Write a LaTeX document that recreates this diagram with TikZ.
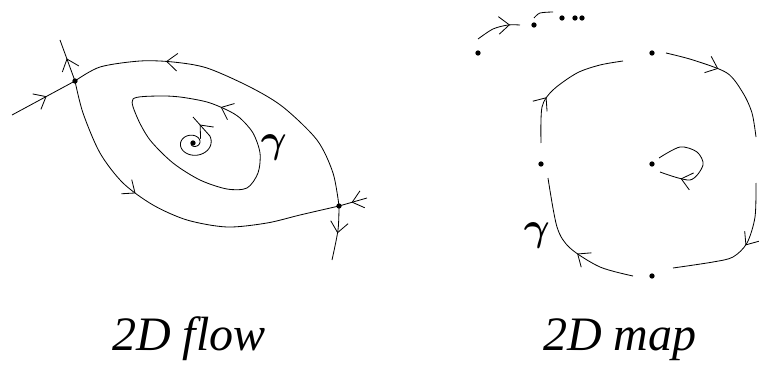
\documentclass[tikz,border=0pt]{standalone}
\usepackage{fontspec}
\setmainfont{Liberation Serif}
\usepackage{graphicx}
\usepackage{tikz}
\usetikzlibrary{shapes,arrows.meta,positioning,calc,decorations.markings}

\newcommand{\orbitname}{\scalebox{3.4}{\boldmath$\gamma$}}

\tikzset{
  fixpt/.style={circle, fill=black, inner sep=0pt, minimum size=4.5pt},
  orbit/.style={line width=0.7pt},
  flowarrow/.style={postaction={decorate}, decoration={markings,
      mark=at position #1 with {\arrow{Straight Barb[length=9pt,width=15pt,line width=0.7pt]}}}},
  biglabel/.style={font=\fontsize{41}{44}\selectfont\itshape}
}

\begin{document}
\begin{tikzpicture}[x=0.03cm, y=-0.03cm]
  \useasboundingbox (0,0) rectangle (759,370);

  % 2D flow
  \node[fixpt] (A) at (75,81) {};
  \node[fixpt] (B) at (339,206) {};
  \node[fixpt] (F) at (193,143) {};
  \coordinate (Aup) at (60,40);
  \coordinate (Ain) at (12,115);
  \coordinate (Bin) at (367,198);
  \coordinate (Bdown) at (332,260);
  \coordinate (Ftail) at (193,117);

  \draw[orbit, flowarrow=0.55] (A.center) -- (Aup);
  \draw[orbit, flowarrow=0.55] (Ain) -- (A.center);
  \draw[orbit, flowarrow=0.55] (Bin) -- (B.center);
  \draw[orbit, flowarrow=0.5] plot[smooth] coordinates {(B.center) (338,230) (Bdown)};
  \draw[orbit, flowarrow=0.72] plot[smooth] coordinates {(B.center) (333,173) (317,140) (283,107)
      (250,87) (207,68) (173,62) (140,61) (100,67) (A.center)};
  \draw[orbit, flowarrow=0.38] plot[smooth] coordinates {(A.center) (83,113) (100,153) (123,183)
      (153,205) (187,220) (227,227) (267,223) (300,215) (B.center)};
  \draw[orbit, flowarrow=0.12] plot[smooth cycle] coordinates {(260,153) (253,133) (240,118)
      (227,110) (207,102) (180,97) (157,96) (133,99) (137,117) (150,140) (173,163) (200,180)
      (227,189) (247,188) (258,173)};
  \draw[orbit] plot[smooth, domain=-512:28, samples=70, variable=\t]
      ({193+(2+17*(\t+512)/540)*cos(\t)}, {143-0.8*(2+17*(\t+512)/540)*sin(\t)}) coordinate (Fend);
  \draw[orbit, flowarrow=0.6] (Fend) -- (Ftail);
  \node (g1) at (274,148) {\orbitname};

  % 2D map
  \node[fixpt] (p0) at (478,53) {};
  \node[fixpt] (p1) at (534,25) {};
  \node[fixpt] (p2) at (562,18) {};
  \node[fixpt] (p3) at (575,18) {};
  \node[fixpt] (p4) at (582,18) {};
  \node[fixpt] (N) at (652,53) {};
  \node[fixpt] (W) at (541,164) {};
  \node[fixpt] (C) at (652,164) {};
  \node[fixpt] (S) at (652,276) {};

  \draw[orbit, flowarrow=0.78] plot[smooth] coordinates {(478,39) (493,29) (508,25) (520,25)};
  \draw[orbit] plot[smooth] coordinates {(534,18) (540,13) (553,12)};
  \draw[orbit, flowarrow=0.4] plot[smooth] coordinates {(666,53) (693,60) (727,73) (743,93) (752,113) (756,137)};
  \draw[orbit, flowarrow=0.45] plot[smooth] coordinates {(756,183) (755,217) (747,243) (733,257) (713,262) (673,268)};
  \draw[orbit, flowarrow=0.42] plot[smooth] coordinates {(633,276) (600,267) (570,248) (557,227) (548,178)};
  \draw[orbit, flowarrow=0.35] plot[smooth] coordinates {(541,143) (542,107) (553,90) (577,73) (600,65) (623,61)};
  \draw[orbit, flowarrow=0.8] plot[smooth] coordinates {(659,158) (680,147) (697,152) (703,165) (690,180) (660,172)};
  \node (g2) at (537,236) {\orbitname};

  \node[biglabel, anchor=base] (flow) at (189,350) {2D flow};
  \node[biglabel, anchor=base] (map) at (620,350) {2D map};
\end{tikzpicture}
\end{document}
